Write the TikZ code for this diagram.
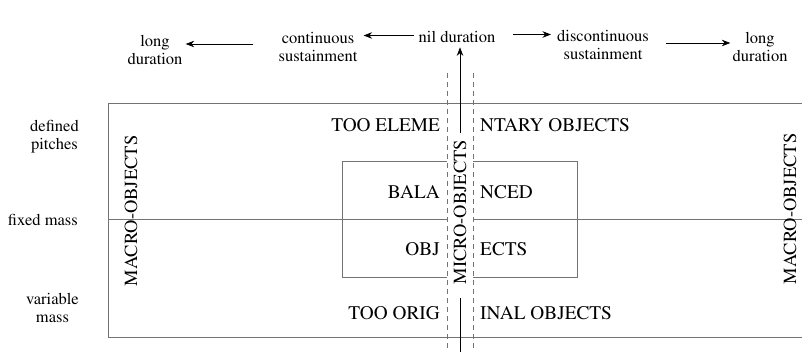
\documentclass[tikz,border=0pt]{standalone}
\usepackage[T1]{fontenc}
\usepackage{mathptmx}
\usetikzlibrary{arrows.meta}
\tikzset{
  lbl/.style={font=\fontsize{16.5}{18}\selectfont,align=center,inner sep=1pt},
  caps/.style={font=\fontsize{19.3}{21}\selectfont,inner sep=0pt},
  sidecaps/.style={font=\fontsize{18.5}{20}\selectfont,inner sep=0pt,rotate=90},
  frameline/.style={draw=gray!90!black,line width=0.9pt},
  gapline/.style={draw=gray!90!black,line width=0.9pt,dash pattern=on 5pt off 4pt},
  durarrow/.style={->,line width=0.7pt}
}
\begin{document}
\begin{tikzpicture}[>={Stealth[length=8.5pt,width=6.5pt]},x=1pt,y=-1pt]
		\useasboundingbox (0,0) rectangle (802,352);
		\node[lbl] (longl) at (155,50) {long\\duration};
		\node[lbl] (cont) at (318,47) {continuous\\sustainment};
		\node[lbl,anchor=base] (nil) at (457,43) {nil duration};
		\node[lbl] (disc) at (603,45) {discontinuous\\sustainment};
		\node[lbl] (longr) at (760,47) {long\\duration};
		\node[lbl,anchor=east] (defp) at (80,137) {defined\\pitches};
		\node[lbl,anchor=base east] (fixm) at (79,226) {fixed mass};
		\node[lbl,anchor=east] (varm) at (80,308) {variable\\mass};
		\draw[frameline] (802,103) -- (108,103) -- (108,337) -- (802,337);
		\draw[frameline] (108,219) -- (447,219) (473,219) -- (802,219);
		\draw[frameline] (447,161) -- (342,161) -- (342,277) -- (447,277);
		\draw[frameline] (473,161) -- (577,161) -- (577,277) -- (473,277);
		\draw[gapline] (447,73) -- (447,352);
		\draw[gapline] (473,73) -- (473,352);
		\node[caps,anchor=base east] (tooelem) at (440,132) {TOO ELEME};
		\node[caps,anchor=base west] (ntary) at (480,132) {NTARY OBJECTS};
		\node[caps,anchor=base east] (bala) at (440,199) {BALA};
		\node[caps,anchor=base west] (nced) at (480,199) {NCED};
		\node[caps,anchor=base east] (obj) at (440,256) {OBJ};
		\node[caps,anchor=base west] (ects) at (480,256) {ECTS};
		\node[caps,anchor=base east] (tooorig) at (440,319) {TOO ORIG};
		\node[caps,anchor=base west] (inal) at (480,319) {INAL OBJECTS};
		\node[sidecaps] (macl) at (131,211) {MACRO-OBJECTS};
		\node[sidecaps] (macr) at (790,209) {MACRO-OBJECTS};
		\node[sidecaps] (micro) at (460,212) {MICRO-OBJECTS};
		\coordinate (bot) at (460,352);
		\draw[line width=0.7pt,shorten >=14pt] (bot) -- (micro);
		\draw[durarrow,shorten <=7pt,shorten >=3pt] (micro) -- (micro |- nil.south);
		\draw[durarrow,shorten <=4pt,shorten >=5pt] ([yshift=2pt]nil.west) -- ([yshift=2pt]nil.west -| cont.east);
		\draw[durarrow,shorten <=24pt,shorten >=2pt] ([yshift=3pt]cont.west) -- ([yshift=3pt]cont.west -| longl.east);
		\draw[durarrow,shorten <=17pt,shorten >=5pt] ([yshift=3pt]nil.east) -- ([yshift=3pt]nil.east -| disc.west);
		\draw[durarrow,shorten <=16pt,shorten >=1pt] ([yshift=2pt]disc.east) -- ([yshift=2pt]disc.east -| longr.west);
\end{tikzpicture}
\end{document}
